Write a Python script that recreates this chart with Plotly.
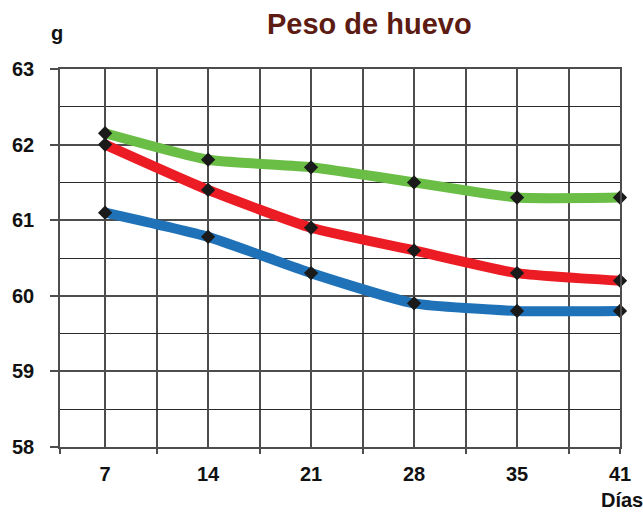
import plotly.graph_objects as go

# Egg weight (g) by day of lay
days = ["7", "14", "21", "28", "35", "41"]
peso_verde = [62.15, 61.80, 61.70, 61.50, 61.30, 61.30]
peso_rojo = [62.00, 61.40, 60.90, 60.60, 60.30, 60.20]
peso_azul = [61.10, 60.78, 60.30, 59.90, 59.80, 59.80]
y_ticks = [58, 59, 60, 61, 62, 63]

pos = list(range(len(days)))
grid_col = "#4d4d4d"
base = "Liberation Sans, Arial, sans-serif"
axis_font = dict(family=base, size=20, color="#111111", weight="bold")

fig = go.Figure()
for vals, col in [(peso_verde, "#6abd45"), (peso_rojo, "#ec1c24"), (peso_azul, "#1f72b8")]:
    fig.add_trace(go.Scatter(
        x=pos, y=vals, mode="lines+markers",
        line=dict(color=col, width=10, shape="spline", smoothing=0.5),
        marker=dict(symbol="diamond", size=11, color="#1a1a1a"),
        cliponaxis=False, showlegend=False, hoverinfo="skip",
    ))

x_range = [-0.438, 5.0]
fig.update_layout(
    width=643, height=512,
    margin=dict(l=59, r=13, t=69, b=65),
    paper_bgcolor="white", plot_bgcolor="white",
    font=axis_font,
    xaxis=dict(
        range=x_range, tickmode="array", tickvals=pos, ticktext=days,
        showgrid=True, gridcolor=grid_col, gridwidth=1.5,
        ticks="", ticklabelstandoff=8,
        showline=True, linecolor=grid_col, linewidth=1.5, mirror=True,
        zeroline=False,
        minor=dict(tick0=0.5, dtick=1, showgrid=True, gridcolor=grid_col, gridwidth=1.5),
        tickfont=axis_font,
    ),
    xaxis2=dict(
        range=x_range, overlaying="x", side="bottom", anchor="y",
        tickmode="array", tickvals=[-0.438, 0.5, 1.5, 2.5, 3.5, 4.5, 5.0],
        ticks="outside", ticklen=6, tickwidth=1.5, tickcolor=grid_col,
        showticklabels=False, showgrid=False, zeroline=False, showline=False,
    ),
    yaxis=dict(
        range=[58, 63], tickmode="array", tickvals=y_ticks,
        showgrid=True, gridcolor=grid_col, gridwidth=1.5,
        ticks="outside", ticklen=8, tickwidth=1.5, tickcolor=grid_col,
        ticklabelstandoff=12,
        showline=True, linecolor=grid_col, linewidth=1.5, mirror=True,
        zeroline=False,
        minor=dict(tick0=58.5, dtick=1, showgrid=True, gridcolor="#2a2a2a", gridwidth=1.2),
        tickfont=axis_font,
    ),
    annotations=[
        dict(text="Peso de huevo", xref="paper", yref="paper",
             x=0.552, y=1.119, xanchor="center", yanchor="middle", showarrow=False,
             font=dict(family=base, size=29, color="#5c1b13", weight="bold")),
        dict(text="g", xref="paper", yref="paper",
             x=-0.006, y=1.095, xanchor="center", yanchor="middle", showarrow=False,
             font=axis_font),
        dict(text="Días", xref="paper", yref="paper",
             x=1.045, y=-0.14, xanchor="right", yanchor="middle", showarrow=False,
             font=dict(family=base, size=20, color="#111111", weight="bold")),
    ],
)
# empty trace so the secondary x-axis (tick marks only) is rendered
fig.add_trace(go.Scatter(x=[None], y=[None], xaxis="x2", showlegend=False, hoverinfo="skip"))

fig.write_html("out.html")
